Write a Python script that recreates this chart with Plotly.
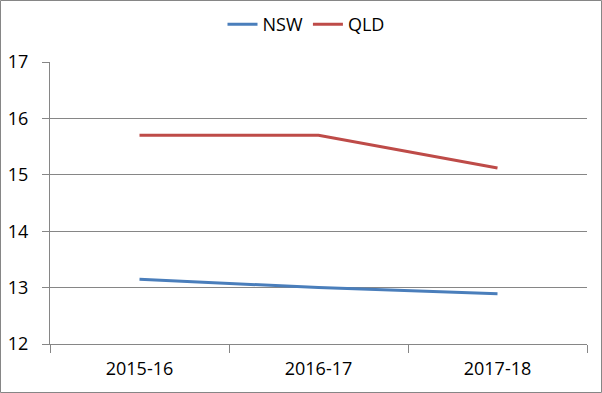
import plotly.graph_objects as go

categories = ["2015-16", "2016-17", "2017-18"]
nsw = [13.15, 13.0, 12.89]
qld = [15.70, 15.70, 15.12]
y_ticks = [12, 13, 14, 15, 16, 17]

W, H = 602, 393
ML, MR, MT, MB = 50, 15, 62, 49

fig = go.Figure()
fig.add_trace(go.Scatter(x=categories, y=nsw, name="NSW", mode="lines",
                         line=dict(color="#4A7EBB", width=3)))
fig.add_trace(go.Scatter(x=categories, y=qld, name="QLD", mode="lines",
                         line=dict(color="#BE4B48", width=3)))

pw = W - ML - MR
ph = H - MT - MB
fig.add_shape(type="rect", xref="paper", yref="paper",
              x0=(0.5 - ML) / pw, x1=(W - 0.5 - ML) / pw,
              y0=-(MB - 0.5) / ph, y1=1 + (MT - 0.5) / ph,
              line=dict(color="#868686", width=1), layer="above")

fig.update_layout(
    width=W, height=H,
    margin=dict(l=ML, r=MR, t=MT, b=MB, autoexpand=False),
    paper_bgcolor="white", plot_bgcolor="white",
    font=dict(family="Open Sans", size=18, color="#000000"),
    showlegend=True,
    legend=dict(orientation="h", x=(306 - ML) / pw, xanchor="center", y=1 + (MT - 6) / ph,
                yanchor="top", font=dict(size=18), itemwidth=30,
                tracegroupgap=0, bgcolor="rgba(0,0,0,0)"),
    xaxis=dict(type="category", tickson="boundaries", ticks="outside", ticklen=8,
               tickcolor="#868686", showline=True, linecolor="#868686", linewidth=1,
               showgrid=False, range=[-0.5, 2.5], ticklabelstandoff=8,
               tickfont=dict(size=18), automargin=False),
    yaxis=dict(range=[12, 17], tickvals=y_ticks, ticks="outside", ticklen=7,
               tickcolor="#868686", showline=True, linecolor="#868686", linewidth=1,
               showgrid=True, gridcolor="#868686", gridwidth=1, zeroline=False,
               ticklabelstandoff=10, tickfont=dict(size=18), automargin=False),
)

fig.write_html("out.html", config={"displayModeBar": False},
               post_script="document.body.style.margin='0';document.body.style.overflow='hidden';")
